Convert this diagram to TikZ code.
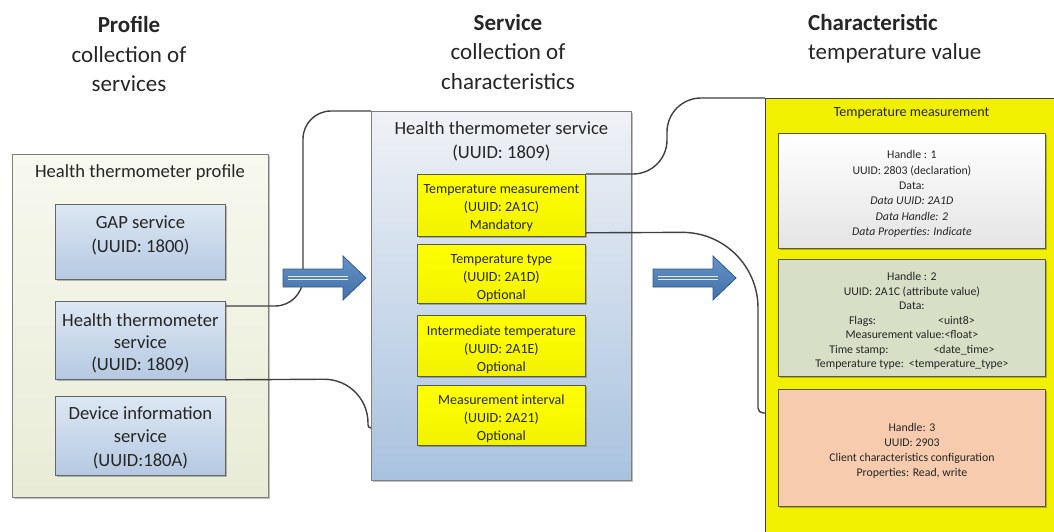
\documentclass[tikz,border=0pt]{standalone}
\usepackage{fontspec}
\setmainfont{Carlito}
\usetikzlibrary{shadows,calc}

\definecolor{ink}{HTML}{262626}
\definecolor{wire}{HTML}{404040}
\definecolor{frame}{HTML}{7F7F7F}
\definecolor{profTop}{HTML}{F7F8EF}
\definecolor{profBot}{HTML}{E8ECD6}
\definecolor{svcTop}{HTML}{DDE7F3}
\definecolor{svcBot}{HTML}{B5C9E2}
\definecolor{midTop}{HTML}{F0F2F6}
\definecolor{midBot}{HTML}{A8C2DF}
\definecolor{chrYel}{HTML}{FFFF00}
\definecolor{chrYelB}{HTML}{F2F200}
\definecolor{panel}{HTML}{F0F000}
\definecolor{declTop}{HTML}{FFFFFF}
\definecolor{declBot}{HTML}{E4E4E4}
\definecolor{valFill}{HTML}{D7DFC6}
\definecolor{cfgFill}{HTML}{F7CBAD}
\definecolor{olive}{HTML}{5A5A40}
\definecolor{arrFill}{HTML}{4A7EBB}
\definecolor{arrLine}{HTML}{2E5A8E}

\begin{document}
\begin{tikzpicture}[x=1pt,y=-1pt,
  every node/.style={text=ink, inner sep=0pt},
  shadowed/.style={drop shadow={shadow xshift=2pt, shadow yshift=-2pt, opacity=0.25, fill=black}},
  heading/.style={font=\fontsize{23}{29.5}\selectfont, align=center},
  outerbox/.style={draw=frame, line width=0.8pt, shadowed, anchor=north west},
  svcbox/.style={draw=frame!80!black, line width=0.8pt, top color=svcTop, bottom color=svcBot, shadowed, anchor=north west, minimum width=170pt},
  bigtxt/.style={font=\fontsize{18.6}{23.5}\selectfont, align=center, anchor=north},
  chrbox/.style={draw=olive, line width=0.8pt, top color=chrYel, bottom color=chrYelB, shadowed, anchor=north west, minimum width=168pt},
  chrtxt/.style={font=\fontsize{14}{18}\selectfont, align=center},
  attbox/.style={draw=olive, line width=0.8pt, shadowed, anchor=north west, minimum width=267pt},
  atttxt/.style={font=\fontsize{11.8}{15}\selectfont, align=center},
  conn/.style={draw=wire, line width=1.4pt},
  blockarrow/.style={top color=arrFill!85!white, bottom color=arrFill!90!black, draw=arrLine, line width=0.8pt}
]
\useasboundingbox[fill=white] (0,0) rectangle (1054,531);

% column headings
\node[heading] (hProf) at (129,54) {\textbf{Profile}\\collection of\\services};
\node[heading] (hSvc) at (508,52) {\textbf{Service}\\collection of\\characteristics};
\node[heading, anchor=west, align=left] (hChr) at (808,39) {\textbf{Characteristic}\\temperature value};

% profile column
\node[outerbox, top color=profTop, bottom color=profBot, minimum width=256pt, minimum height=343pt] (prof) at (12,154) {};
\node[font=\fontsize{18.6}{22}\selectfont] (profT) at (140,173) {Health thermometer profile};
\node[svcbox, minimum height=75pt] (gap) at (55,204) {};
\node[bigtxt, font=\fontsize{18.6}{24.5}\selectfont] (gapT) at ($(gap.north)+(0,11)$) {GAP service\\(UUID: 1800)};
\node[svcbox, minimum height=78pt] (hts) at (55,301) {};
\node[bigtxt, font=\fontsize{18.6}{22}\selectfont] (htsT) at ($(hts.north)+(0,12)$) {Health thermometer\\service\\(UUID: 1809)};
\node[svcbox, minimum height=79pt] (dis) at (55,396) {};
\node[bigtxt] (disT) at ($(dis.north)+(0,10)$) {Device information\\service\\(UUID:180A)};

% service column
\node[outerbox, top color=midTop, bottom color=midBot, minimum width=260pt, minimum height=369pt] (svc) at (371,111) {};
\node[bigtxt, font=\fontsize{18.6}{24}\selectfont] (svcT) at ($(svc.north)+(0,10)$) {Health thermometer service\\(UUID: 1809)};
\node[chrbox, minimum height=62pt] (tm) at (417,174) {};
\node[chrtxt] (tmT) at ($(tm.center)+(0,3)$) {Temperature measurement\\(UUID: 2A1C)\\Mandatory};
\node[chrbox, minimum height=59pt] (tt) at (417,244) {};
\node[chrtxt] (ttT) at ($(tt.center)+(0,4)$) {Temperature type\\(UUID: 2A1D)\\Optional};
\node[chrbox, minimum height=61pt] (it) at (417,315) {};
\node[chrtxt] (itT) at ($(it.center)+(0,3.5)$) {Intermediate temperature\\(UUID: 2A1E)\\Optional};
\node[chrbox, minimum height=60pt] (mi) at (417,385) {};
\node[chrtxt] (miT) at ($(mi.center)+(0,3.5)$) {Measurement interval\\(UUID: 2A21)\\Optional};

% characteristic column
\node[draw=wire, line width=1pt, fill=panel, anchor=north west, minimum width=320pt, minimum height=460pt] (pan) at (765,98) {};
\node[font=\fontsize{14}{16}\selectfont] (panT) at (911.5,113) {Temperature measurement};
\node[attbox, top color=declTop, bottom color=declBot, minimum height=115pt] (decl) at (778,133) {};
\node[atttxt, font=\fontsize{11.8}{15.3}\selectfont] (declT) at ($(decl.center)+(0,3)$)
  {Handle : 1\\UUID: 2803 (declaration)\\Data:\\\textit{Data UUID: 2A1D}\\\textit{Data Handle: 2}\\\textit{Data Properties: Indicate}};
\node[attbox, fill=valFill, minimum height=117pt] (val) at (778,259) {};
\node[atttxt, font=\fontsize{11.8}{14.5}\selectfont] (valT) at ($(val.center)+(0,3)$)
  {Handle : 2\\UUID: 2A1C (attribute value)\\Data:\\Flags:\hspace{62pt}<uint8>\\Measurement value:<float>\\Time stamp:\hspace{45pt}<date\_time>\\Temperature type:\hspace{5pt}<temperature\_type>};
\node[attbox, fill=cfgFill, minimum height=117pt] (cfg) at (778,389) {};
\node[atttxt] (cfgT) at ($(cfg.center)+(0,3)$)
  {Handle: 3\\UUID: 2903\\Client characteristics configuration\\Properties: Read, write};

% connectors
\coordinate (c1) at ($(hts.north east)+(0,5)$);
\coordinate (c2) at ($(tm.south east)+(0,-4)$);
\coordinate (c3) at (svc.west |- 0,428);
\coordinate (c4) at (pan.west |- 0,413);
\draw[conn, rounded corners=28pt] (c1) -- (303,306) -- (303,111) -- (svc.north west);
\draw[conn, rounded corners=44pt] (hts.south east) -- (368,379) [rounded corners=3pt] -- (368,428) -- (c3);
\draw[conn, rounded corners=34pt] (tm.north east) -- (667,174) -- (667,98) -- (pan.north west);
\draw[conn, rounded corners=76pt] (c2) -- (758,232) [rounded corners=5pt] -- (758,413) -- (c4);

% block arrows
\path[blockarrow] (283,269) -- (343,269) -- (343,256) -- (366,278) -- (343,300) -- (343,287) -- (283,287) -- cycle;
\draw[white!85!arrFill, line width=0.6pt] (288,276.5) -- (348,276.5) (288,279.5) -- (348,279.5);
\path[blockarrow] (653,269) -- (713,269) -- (713,256) -- (736,278) -- (713,300) -- (713,287) -- (653,287) -- cycle;
\draw[white!85!arrFill, line width=0.6pt] (658,276.5) -- (718,276.5) (658,279.5) -- (718,279.5);
\end{tikzpicture}
\end{document}
